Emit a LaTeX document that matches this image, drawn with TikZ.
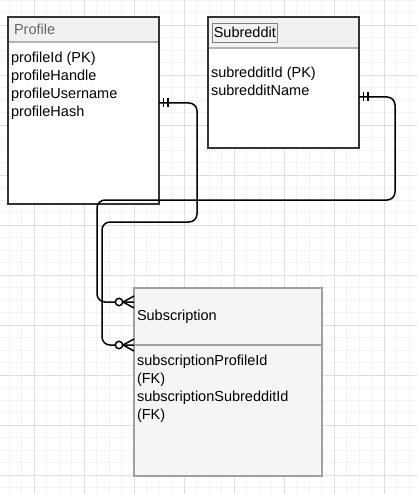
\documentclass[tikz,border=0pt]{standalone}
\usepackage{fontspec}
\setmainfont{Liberation Sans}
\usetikzlibrary{positioning}
\definecolor{gridmajor}{RGB}{222,222,222}
\definecolor{gridminor}{RGB}{243,243,243}
\definecolor{headfill}{RGB}{241,241,241}
\definecolor{weakfill}{RGB}{245,245,245}
\definecolor{framedark}{RGB}{51,51,51}
\definecolor{framegray}{RGB}{160,160,160}
\newcommand{\onlyone}[1]{%
	\draw[relline] ([xshift=4.5pt,yshift=4.5pt]#1) -- ([xshift=4.5pt,yshift=-4.5pt]#1)
		([xshift=9pt,yshift=4.5pt]#1) -- ([xshift=9pt,yshift=-4.5pt]#1);}
\newcommand{\zeromany}[1]{%
	\draw[relline] ([xshift=-11pt]#1) -- ([yshift=6pt]#1)
		([xshift=-11pt]#1) -- ([yshift=-6pt]#1);
	\draw[relline, fill=white] ([xshift=-15pt]#1) circle (3.7pt);}

\begin{document}
\begin{tikzpicture}[
				x=1pt, y=-1pt,
				every node/.style={font=\fontsize{14.5}{18}\selectfont, outer sep=0pt},
				headbox/.style={
					fill=headfill,
					inner sep=0pt,
					anchor=north west
				},
				bodybox/.style={
					fill=white,
					inner sep=0pt
				},
				titletext/.style={
					anchor=west,
					inner sep=0pt
				},
				attrtext/.style={
					anchor=north west,
					align=left,
					inner sep=0pt
				},
				relline/.style={
					line width=1.5pt,
					draw=black
				},
				node distance=0pt
				]
				
				\useasboundingbox (0,0) rectangle (417,494);
				\fill[white] (0,0) rectangle (417,494);
				
				% background grid
				\foreach \i in {-2,...,30}
					\draw[gridminor, line width=0.6pt] (34+12.5*\i,0) -- (34+12.5*\i,494);
				\foreach \i in {-2,...,37}
					\draw[gridminor, line width=0.6pt] (0,25+12.5*\i) -- (417,25+12.5*\i);
				\foreach \i in {0,...,7}
					\draw[gridmajor, line width=0.8pt] (34+50*\i,0) -- (34+50*\i,494);
				\foreach \i in {0,...,9}
					\draw[gridmajor, line width=0.8pt] (0,25+50*\i) -- (417,25+50*\i);
				
				% Profile
				\node[headbox, minimum width=151pt, minimum height=25pt] (profileHead) at (8,17) {};
				\node[bodybox, below=of profileHead, minimum width=151pt, minimum height=162pt] (profileBody) {};
				\node[titletext, text=black!60, right=6pt of profileHead.west] (profileTitle) {Profile};
				\node[attrtext] (profileAttrs) at ([xshift=3pt,yshift=-10pt]profileBody.north west) {
					profileId (PK)\\
					profileHandle\\
					profileUsername\\
					profileHash
				};
				\draw[framegray!80, line width=2pt] (profileBody.north west) -- (profileBody.north east);
				\draw[framedark, line width=1.3pt] (profileHead.north west) rectangle (profileBody.south east);
				
				% Subreddit
				\node[headbox, minimum width=151pt, minimum height=31pt] (subredditHead) at (208,17) {};
				\node[bodybox, below=of subredditHead, minimum width=151pt, minimum height=100pt] (subredditBody) {};
				\node[titletext, draw=black!50, line width=0.8pt, inner xsep=1.5pt, minimum height=19pt,
					right=4.3pt of subredditHead.west] (subredditTitle) {Subreddit};
				\node[attrtext] (subredditAttrs) at ([xshift=3pt,yshift=-19pt]subredditBody.north west) {
					subredditId (PK)\\
					subredditName
				};
				\draw[framegray!80, line width=1.5pt] (subredditBody.north west) -- (subredditBody.north east);
				\draw[framedark, line width=1.3pt] (subredditHead.north west) rectangle (subredditBody.south east);
				
				% Subscription
				\node[headbox, fill=weakfill, minimum width=188pt, minimum height=57pt] (subscriptionHead) at (134,288) {};
				\node[bodybox, fill=weakfill, below=of subscriptionHead, minimum width=188pt, minimum height=131pt] (subscriptionBody) {};
				\node[titletext, right=3pt of subscriptionHead.west] (subscriptionTitle) {Subscription};
				\node[attrtext] (subscriptionAttrs) at ([xshift=3pt,yshift=-10pt]subscriptionBody.north west) {
					subscriptionProfileId\\
					(FK)\\
					subscriptionSubredditId\\
					(FK)
				};
				\draw[framegray, line width=1.5pt] (subscriptionBody.north west) -- (subscriptionBody.north east);
				\draw[framegray, line width=1.3pt] (subscriptionHead.north west) rectangle (subscriptionBody.south east);
				
				% relations
				\coordinate (profilePort) at ([yshift=-61pt]profileBody.north east);
				\coordinate (subredditPort) at ([yshift=-49pt]subredditBody.north east);
				\coordinate (subProfilePort) at (subscriptionBody.north west);
				\coordinate (subSubredditPort) at ([yshift=-14pt]subscriptionHead.north west);
				
				\draw[relline, rounded corners=8pt] (profilePort) -- ++(38,0) -- ++(0,119) -- ++(-95,0) |- (subProfilePort);
				\draw[relline, rounded corners=8pt] (subredditPort) -- ++(36,0) -- ++(0,103) -- ++(-298,0) |- (subSubredditPort);
				
				\onlyone{profilePort}
				\onlyone{subredditPort}
				\zeromany{subProfilePort}
				\zeromany{subSubredditPort}
				
			\end{tikzpicture}
\end{document}
